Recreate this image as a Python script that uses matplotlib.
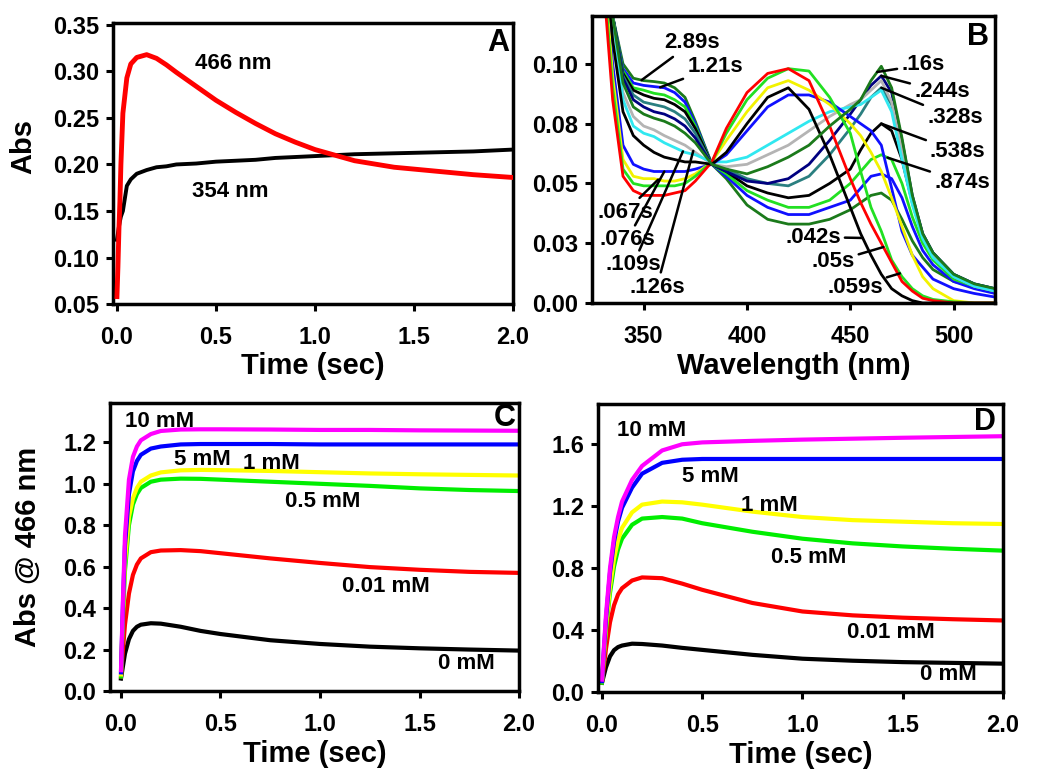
import numpy as np
import matplotlib
matplotlib.use("Agg")
import matplotlib.pyplot as plt

plt.rcParams['font.family'] = ['Liberation Sans', 'DejaVu Sans']
plt.rcParams['font.weight'] = 'bold'
plt.rcParams['axes.labelweight'] = 'bold'

# ---------------- Panel A: kinetic traces ----------------
t_a = [0, 0.005, 0.01, 0.015, 0.02, 0.03, 0.05, 0.07, 0.1, 0.15, 0.2, 0.25, 0.3,
       0.4, 0.5, 0.6, 0.7, 0.8, 0.9, 1.0, 1.1, 1.2, 1.4, 1.6, 1.8, 2.0]
abs_466 = [0.058, 0.09, 0.13, 0.16, 0.20, 0.255, 0.293, 0.308, 0.315, 0.318, 0.314,
           0.307, 0.299, 0.284, 0.269, 0.256, 0.244, 0.233, 0.224, 0.216, 0.210,
           0.204, 0.197, 0.193, 0.189, 0.186]
abs_354 = [0.119, 0.126, 0.133, 0.139, 0.144, 0.150, 0.177, 0.184, 0.190, 0.194,
           0.197, 0.198, 0.200, 0.201, 0.203, 0.204, 0.205, 0.207, 0.208, 0.209,
           0.210, 0.211, 0.212, 0.213, 0.214, 0.216]

# ---------------- Panel B: spectra ----------------
wl = [325, 330, 335, 340, 345, 350, 355, 360, 365, 370, 375, 383, 390, 400, 410, 420,
      430, 440, 450, 455, 460, 465, 470, 475, 480, 485, 490, 500, 510, 520]
s_042 = [0.21, 0.16, 0.11, 0.080, 0.070, 0.066, 0.063, 0.061, 0.060, 0.059, 0.059, 0.058,
         0.063, 0.075, 0.086, 0.090, 0.081, 0.062, 0.040, 0.029, 0.020, 0.012, 0.006,
         0.003, 0.001, 0.0, 0.0, 0.0, 0.0, 0.0]
s_050 = [0.20, 0.14, 0.085, 0.053, 0.047, 0.045, 0.045, 0.045, 0.046, 0.047, 0.051, 0.059,
         0.073, 0.088, 0.096, 0.098, 0.093, 0.074, 0.052, 0.042, 0.033, 0.025, 0.017,
         0.009, 0.005, 0.002, 0.001, 0.0, 0.0, 0.0]
s_059 = [0.20, 0.145, 0.09, 0.056, 0.050, 0.049, 0.049, 0.049, 0.049, 0.050, 0.053, 0.059,
         0.071, 0.085, 0.094, 0.098, 0.097, 0.086, 0.071, 0.055, 0.040, 0.030, 0.018,
         0.011, 0.006, 0.003, 0.0015, 0.0005, 0.0, 0.0]
s_067 = [0.20, 0.15, 0.095, 0.060, 0.053, 0.052, 0.052, 0.051, 0.051, 0.052, 0.054, 0.059,
         0.068, 0.080, 0.090, 0.093, 0.089, 0.083, 0.075, 0.070, 0.063, 0.055, 0.044,
         0.032, 0.020, 0.011, 0.006, 0.001, 0.0, 0.0]
s_076 = [0.21, 0.155, 0.10, 0.066, 0.058, 0.056, 0.055, 0.055, 0.055, 0.055, 0.056, 0.058,
         0.062, 0.072, 0.082, 0.087, 0.087, 0.084, 0.078, 0.075, 0.072, 0.066, 0.048,
         0.030, 0.020, 0.015, 0.010, 0.006, 0.004, 0.0025]
s_109 = [0.22, 0.17, 0.12, 0.085, 0.074, 0.071, 0.0696, 0.067, 0.065, 0.063, 0.062, 0.059,
         0.059, 0.061, 0.066, 0.071, 0.076, 0.080, 0.082, 0.083, 0.086, 0.089, 0.080,
         0.060, 0.041, 0.027, 0.019, 0.011, 0.007, 0.005]
s_126 = [0.22, 0.17, 0.12, 0.088, 0.078, 0.074, 0.0724, 0.070, 0.068, 0.066, 0.063, 0.058,
         0.057, 0.058, 0.062, 0.066, 0.072, 0.078, 0.083, 0.085, 0.089, 0.093, 0.084,
         0.064, 0.043, 0.028, 0.020, 0.011, 0.007, 0.005]
s_160 = [0.23, 0.175, 0.12, 0.092, 0.082, 0.079, 0.0773, 0.076, 0.074, 0.071, 0.067, 0.058,
         0.056, 0.054, 0.057, 0.061, 0.066, 0.074, 0.081, 0.085, 0.093, 0.099, 0.090,
         0.069, 0.045, 0.029, 0.021, 0.012, 0.008, 0.006]
s_244 = [0.23, 0.175, 0.12, 0.094, 0.085, 0.082, 0.080, 0.079, 0.077, 0.074, 0.069, 0.058,
         0.055, 0.051, 0.050, 0.052, 0.058, 0.068, 0.079, 0.085, 0.091, 0.095, 0.088,
         0.068, 0.045, 0.029, 0.021, 0.012, 0.008, 0.006]
s_328 = [0.24, 0.18, 0.12, 0.095, 0.087, 0.084, 0.083, 0.082, 0.080, 0.077, 0.071, 0.058,
         0.056, 0.052, 0.050, 0.049, 0.053, 0.062, 0.073, 0.079, 0.086, 0.090, 0.083,
         0.065, 0.044, 0.029, 0.021, 0.012, 0.008, 0.006]
s_538 = [0.24, 0.18, 0.12, 0.096, 0.089, 0.087, 0.0856, 0.085, 0.083, 0.080, 0.073, 0.058,
         0.055, 0.049, 0.046, 0.044, 0.045, 0.050, 0.056, 0.064, 0.071, 0.075, 0.072,
         0.060, 0.042, 0.028, 0.020, 0.011, 0.007, 0.005]
s_874 = [0.24, 0.18, 0.12, 0.097, 0.090, 0.089, 0.0877, 0.087, 0.085, 0.082, 0.074, 0.058,
         0.054, 0.047, 0.043, 0.040, 0.040, 0.043, 0.050, 0.055, 0.060, 0.062, 0.060,
         0.050, 0.036, 0.025, 0.018, 0.010, 0.007, 0.005]
s_121 = [0.25, 0.18, 0.12, 0.098, 0.092, 0.091, 0.0905, 0.090, 0.088, 0.084, 0.075, 0.058,
         0.053, 0.045, 0.040, 0.037, 0.037, 0.040, 0.043, 0.048, 0.053, 0.054, 0.052,
         0.044, 0.032, 0.022, 0.016, 0.009, 0.006, 0.004]
s_289 = [0.25, 0.18, 0.12, 0.100, 0.094, 0.093, 0.0926, 0.092, 0.090, 0.086, 0.076, 0.058,
         0.052, 0.041, 0.035, 0.033, 0.033, 0.035, 0.039, 0.042, 0.045, 0.046, 0.043,
         0.035, 0.026, 0.019, 0.014, 0.009, 0.007, 0.005]

# drawing order, colours, label, label position, leader wavelength
spectra = [
    (s_289, '#1b7a1b', '2.89s', (373.4, 0.1088), 349),
    (s_121, '#1010ff', '1.21s', (384.5, 0.0987), 358),
    (s_874, '#22e022', '.874s', (504.0, 0.0506), 468),
    (s_538, '#000000', '.538s', (502.0, 0.0632), 465),
    (s_328, '#2a7f80', '.328s', (500.6, 0.0774), 465),
    (s_244, '#000080', '.244s', (494.3, 0.0883), 465),
    (s_126, '#b4b4b4', '.126s', (356.4, 0.0067), 374),
    (s_109, '#30e8f0', '.109s', (344.8, 0.0159), 369),
    (s_076, '#1010ff', '.076s', (342.0, 0.0264), 360),
    (s_067, '#f2f200', '.067s', (341.0, 0.0380), 357),
    (s_059, '#22e022', '.059s', (452.2, 0.0067), 474),
    (s_050, '#ff0000', '.05s', (441.6, 0.0172), 466),
    (s_042, '#000000', '.042s', (431.9, 0.0276), 456),
    (s_160, '#1b7a1b', '.16s', (485.1, 0.0996), 463),
]

# ---------------- Panels C and D ----------------
t_cd = [0, 0.01, 0.02, 0.04, 0.06, 0.08, 0.1, 0.15, 0.2, 0.3, 0.4, 0.5, 0.75, 1.0,
        1.25, 1.5, 1.75, 2.0]
conc_labels = ['10 mM', '5 mM', '1 mM', '0.5 mM', '0.01 mM', '0 mM']
conc_colors = ['#ff00ff', '#0000ff', '#ffff00', '#00ee00', '#ff0000', '#000000']

c_10 = [0.10, 0.45, 0.75, 1.02, 1.13, 1.18, 1.21, 1.24, 1.255, 1.262, 1.263, 1.263,
        1.262, 1.260, 1.260, 1.258, 1.257, 1.256]
c_5 = [0.09, 0.42, 0.70, 0.95, 1.06, 1.11, 1.14, 1.17, 1.18, 1.19, 1.192, 1.192,
       1.192, 1.190, 1.190, 1.190, 1.190, 1.190]
c_1 = [0.08, 0.38, 0.62, 0.84, 0.93, 0.98, 1.01, 1.04, 1.055, 1.065, 1.067, 1.066,
       1.062, 1.056, 1.050, 1.046, 1.043, 1.040]
c_05 = [0.07, 0.36, 0.58, 0.80, 0.90, 0.95, 0.98, 1.01, 1.02, 1.025, 1.024, 1.020,
        1.010, 1.000, 0.990, 0.978, 0.970, 0.965]
c_001 = [0.07, 0.20, 0.32, 0.47, 0.56, 0.61, 0.64, 0.67, 0.678, 0.680, 0.675, 0.665,
         0.640, 0.618, 0.598, 0.585, 0.575, 0.570]
c_0 = [0.06, 0.12, 0.18, 0.25, 0.29, 0.31, 0.32, 0.327, 0.325, 0.310, 0.290, 0.275,
       0.245, 0.227, 0.214, 0.206, 0.200, 0.195]

d_10 = [0.08, 0.30, 0.50, 0.80, 1.00, 1.13, 1.23, 1.37, 1.46, 1.56, 1.60, 1.612,
        1.622, 1.630, 1.636, 1.642, 1.647, 1.652]
d_5 = [0.07, 0.28, 0.47, 0.77, 0.97, 1.10, 1.19, 1.32, 1.41, 1.48, 1.50, 1.505,
       1.505, 1.505, 1.505, 1.505, 1.505, 1.505]
d_1 = [0.07, 0.25, 0.42, 0.68, 0.86, 0.98, 1.06, 1.16, 1.21, 1.23, 1.225, 1.21,
       1.165, 1.13, 1.11, 1.10, 1.09, 1.085]
d_05 = [0.06, 0.24, 0.40, 0.64, 0.81, 0.92, 0.99, 1.08, 1.12, 1.13, 1.12, 1.09,
        1.035, 0.99, 0.96, 0.94, 0.925, 0.913]
d_001 = [0.06, 0.17, 0.28, 0.45, 0.56, 0.63, 0.67, 0.72, 0.74, 0.735, 0.70, 0.66,
         0.575, 0.52, 0.495, 0.48, 0.47, 0.462]
d_0 = [0.06, 0.11, 0.16, 0.23, 0.27, 0.29, 0.30, 0.312, 0.31, 0.30, 0.285, 0.272,
       0.24, 0.215, 0.202, 0.193, 0.188, 0.183]

c_text_pos = [(0.195, 1.303), (0.41, 1.118), (0.755, 1.10), (1.014, 0.916),
              (1.332, 0.505), (1.733, 0.134)]
d_text_pos = [(0.248, 1.686), (0.542, 1.389), (0.835, 1.206), (1.031, 0.867),
              (1.44, 0.383), (1.727, 0.116)]


def style_axes(ax):
    for sp in ax.spines.values():
        sp.set_linewidth(2.5)
    ax.tick_params(direction='out', length=5, width=2.2, labelsize=17,
                   top=False, right=False)
    ax.tick_params(axis='x', pad=11)
    ax.tick_params(axis='y', pad=5)
    for lab in ax.get_xticklabels() + ax.get_yticklabels():
        lab.set_fontweight('bold')


fig = plt.figure(figsize=(10.5, 7.75), dpi=100)
axA = fig.add_axes([0.1076, 0.6077, 0.381, 0.3626])
axB = fig.add_axes([0.5638, 0.609, 0.3838, 0.3703])
axC = fig.add_axes([0.1048, 0.1084, 0.3895, 0.3716])
axD = fig.add_axes([0.5695, 0.1071, 0.3857, 0.3716])

# Panel A
axA.plot(t_a, abs_466, color='#ff0000', lw=3.5, zorder=3)
axA.plot(t_a, abs_354, color='#000000', lw=2.8, zorder=2)
axA.set_xlim(-0.02, 2.0)
axA.set_ylim(0.05, 0.352)
axA.set_xticks(np.arange(0, 2.01, 0.5))
axA.set_xticklabels([f'{v:.1f}' for v in np.arange(0, 2.01, 0.5)])
axA.set_yticks(np.arange(0.05, 0.351, 0.05))
axA.set_yticklabels([f'{v:.2f}' for v in np.arange(0.05, 0.351, 0.05)])
axA.text(0.587, 0.308, '466 nm', fontsize=16, ha='center', va='center')
axA.text(0.57, 0.171, '354 nm', fontsize=16, ha='center', va='center')
axA.text(0.962, 0.928, 'A', transform=axA.transAxes, fontsize=22,
         ha='center', va='center')
axA.set_xlabel('Time (sec)', fontsize=21)
axA.set_ylabel('Abs', fontsize=21)
axA.xaxis.set_label_coords(0.5, -0.17)
axA.yaxis.set_label_coords(-0.19, 0.56)
style_axes(axA)

# Panel B
for vals, col, lab, tpos, lw_anchor in spectra:
    axB.plot(wl, vals, color=col, lw=2.0)
for vals, col, lab, tpos, lw_anchor in spectra:
    yv = np.interp(lw_anchor, wl, vals)
    axB.annotate(lab, xy=(lw_anchor, yv), xytext=tpos, fontsize=16,
                 ha='center', va='center',
                 arrowprops=dict(arrowstyle='-', color='black', lw=1.8,
                                 shrinkA=1, shrinkB=0))
axB.set_xlim(325, 520)
axB.set_ylim(0, 0.12)
axB.set_xticks([350, 400, 450, 500])
axB.set_yticks([0, 0.025, 0.05, 0.075, 0.1])
axB.set_yticklabels(['0.00', '0.03', '0.05', '0.08', '0.10'])
axB.text(0.959, 0.928, 'B', transform=axB.transAxes, fontsize=22,
         ha='center', va='center')
axB.set_xlabel('Wavelength (nm)', fontsize=21)
axB.xaxis.set_label_coords(0.5, -0.17)
style_axes(axB)

# Panels C and D
c_series = [c_10, c_5, c_1, c_05, c_001, c_0]
d_series = [d_10, d_5, d_1, d_05, d_001, d_0]
for ax, series, tpos in [(axC, c_series, c_text_pos), (axD, d_series, d_text_pos)]:
    for vals, col in list(zip(series, conc_colors))[::-1]:
        ax.plot(t_cd, vals, color=col, lw=3.0)
    for lab, (tx, ty) in zip(conc_labels, tpos):
        ax.text(tx, ty, lab, fontsize=16, ha='center', va='center')
    ax.set_xticks(np.arange(0, 2.01, 0.5))
    ax.set_xticklabels([f'{v:.1f}' for v in np.arange(0, 2.01, 0.5)])
    ax.set_xlabel('Time (sec)', fontsize=21)
    ax.xaxis.set_label_coords(0.5, -0.17)

axC.set_xlim(-0.055, 2.0)
axC.set_ylim(0, 1.39)
axC.set_yticks(np.arange(0, 1.21, 0.2))
axC.set_yticklabels([f'{v:.1f}' for v in np.arange(0, 1.21, 0.2)])
axC.set_ylabel('Abs @ 466 nm', fontsize=21)
axC.yaxis.set_label_coords(-0.166, 0.5)
axC.text(0.966, 0.948, 'C', transform=axC.transAxes, fontsize=22,
         ha='center', va='center')
style_axes(axC)

axD.set_xlim(-0.02, 2.0)
axD.set_ylim(0, 1.86)
axD.set_yticks(np.arange(0, 1.61, 0.4))
axD.set_yticklabels([f'{v:.1f}' for v in np.arange(0, 1.61, 0.4)])
axD.text(0.956, 0.938, 'D', transform=axD.transAxes, fontsize=22,
         ha='center', va='center')
style_axes(axD)

fig.savefig('out.png', dpi=100)
